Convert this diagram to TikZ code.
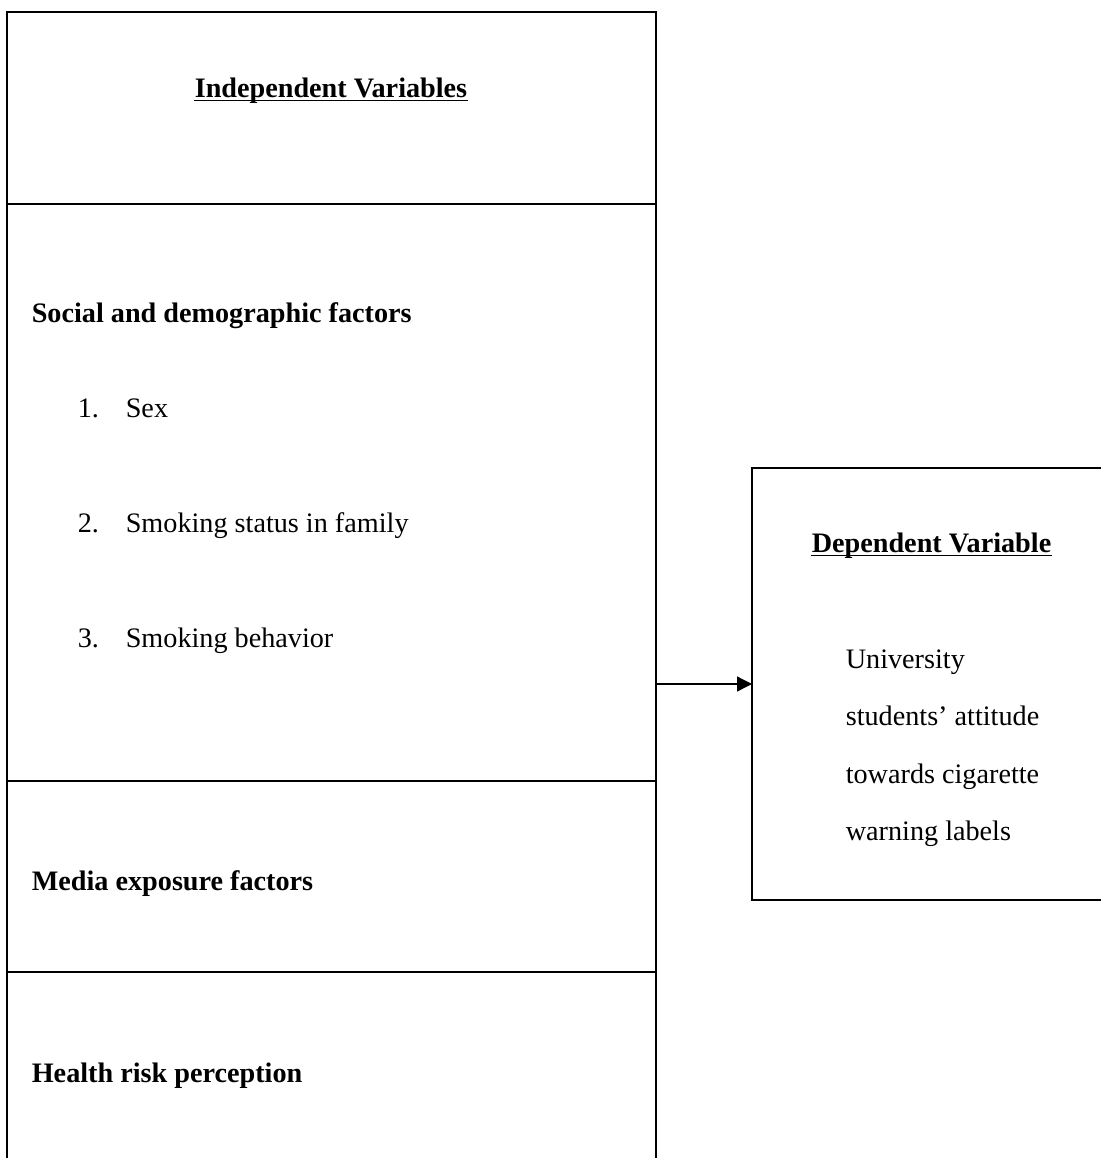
\documentclass[tikz,border=0pt]{standalone}
\usepackage{fontspec}
\setmainfont{Liberation Serif}
\usetikzlibrary{arrows.meta}

\begin{document}
\begin{tikzpicture}[x=0.5pt, y=-0.5pt, line width=0.8pt,
  every node/.style={font=\fontsize{14.1pt}{17pt}\selectfont, inner sep=0pt, anchor=base west},
  head/.style={font=\fontsize{14.1pt}{17pt}\selectfont\bfseries}]
  \useasboundingbox (0,0) rectangle (1101,1158);

  \draw (7,12) rectangle (656,1180);
  \draw (7,204) -- (656,204);
  \draw (7,781) -- (656,781);
  \draw (7,972) -- (656,972);

  \node[head] (ivtitle) at (194,97) {Independent Variables};
  \draw[line width=0.65pt] ([yshift=-1.6pt]ivtitle.base west) -- ([yshift=-1.6pt]ivtitle.base east);

  \node[head] (social) at (31,322) {Social and demographic factors};
  \node (n1) at (77,417) {1.}; \node (sex) at (125,417) {Sex};
  \node (n2) at (77,532) {2.}; \node (family) at (125,532) {Smoking status in family};
  \node (n3) at (77,647) {3.}; \node (behav) at (125,647) {Smoking behavior};

  \node[head] (media) at (31,890) {Media exposure factors};
  \node[head] (health) at (31,1082) {Health risk perception};

  \draw (752,468) rectangle (1120,900);
  \node[head] (dvtitle) at (811,552) {Dependent Variable};
  \draw[line width=0.65pt] ([yshift=-1.6pt]dvtitle.base west) -- ([yshift=-1.6pt]dvtitle.base east);

  \node (dv1) at (845,668) {University};
  \node (dv2) at (845,725) {students’ attitude};
  \node (dv3) at (845,783) {towards cigarette};
  \node (dv4) at (845,840) {warning labels};

  \coordinate (ivR) at (656,684);
  \coordinate (dvL) at (752,684);
  \draw[line width=0.65pt, -{Triangle[length=7.5pt,width=7.5pt]}] (ivR) -- (dvL);
\end{tikzpicture}
\end{document}
